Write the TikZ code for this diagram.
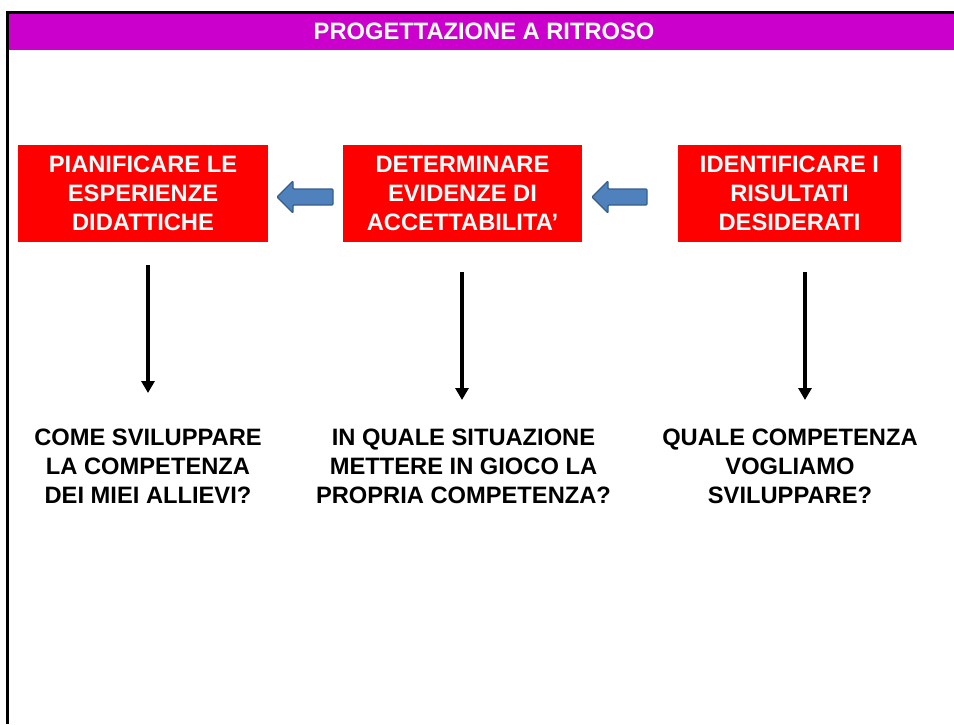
\documentclass[tikz,border=0pt]{standalone}
\usepackage{fontspec}
\setmainfont{Liberation Sans}
\usetikzlibrary{arrows.meta}
\definecolor{barmag}{RGB}{204,0,204}
\definecolor{arrfill}{RGB}{79,129,189}
\definecolor{arrline}{RGB}{56,93,138}
\tikzset{
  redbox/.style={fill=red, text=white, minimum width=#1, minimum height=97pt, inner sep=0pt,
    align=center, font=\bfseries\fontsize{23.7}{29}\selectfont},
  question/.style={text=black, inner sep=0pt, align=center, font=\bfseries\fontsize{23.7}{29}\selectfont},
  downarrow/.style={line width=4pt, -{Triangle[width=13pt,length=12pt]}},
  blockarrow/.style={fill=arrfill, draw=arrline, line width=1.3pt, rounded corners=1pt},
}
\begin{document}
\begin{tikzpicture}[x=1pt,y=-1pt]
\useasboundingbox (0,0) rectangle (954,724);
% frame and title bar
\fill[barmag] (9,14) rectangle (954,50);
\draw[line width=3pt] (7.5,724) -- (7.5,12.5) -- (954,12.5);
\node[text=white, inner sep=0pt, font=\bfseries\fontsize{23.7}{29}\selectfont, anchor=base] (title) at (484,39) {PROGETTAZIONE A RITROSO};
% boxes
\node[redbox=250pt] (b1) at (143,193.5) {PIANIFICARE LE\\ESPERIENZE\\DIDATTICHE};
\node[redbox=239pt] (b2) at (462.5,193.5) {DETERMINARE\\EVIDENZE DI\\ACCETTABILITA’};
\node[redbox=223pt] (b3) at (789.5,193.5) {IDENTIFICARE I\\RISULTATI\\DESIDERATI};
% block arrows
\draw[blockarrow] (277,197) -- (293,181) -- (293,189) -- (333,189) -- (333,205) -- (293,205) -- (293,213) -- cycle;
\draw[blockarrow] (592,197) -- (608,181) -- (608,189) -- (647,189) -- (647,205) -- (608,205) -- (608,213) -- cycle;
% questions
\node[question] (q1) at (148,466) {COME SVILUPPARE\\LA COMPETENZA\\DEI MIEI ALLIEVI?};
\node[question] (q2) at (463.5,466) {IN QUALE SITUAZIONE\\METTERE IN GIOCO LA\\PROPRIA COMPETENZA?};
\node[question] (q3) at (790,466) {QUALE COMPETENZA\\VOGLIAMO\\SVILUPPARE?};
% down arrows
\coordinate (s1) at (148,265); \coordinate (e1) at (148,393);
\coordinate (s2) at (462,272); \coordinate (e2) at (462,400);
\coordinate (s3) at (805,272); \coordinate (e3) at (805,400);
\draw[downarrow] (s1) -- (e1);
\draw[downarrow] (s2) -- (e2);
\draw[downarrow] (s3) -- (e3);
\end{tikzpicture}
\end{document}
